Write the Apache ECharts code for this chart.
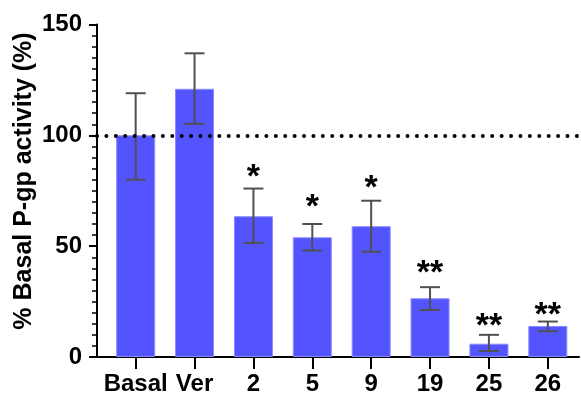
<!DOCTYPE html>
<html>
<head>
<meta charset="utf-8">
<script src="https://cdn.jsdelivr.net/npm/echarts@6/dist/echarts.min.js"></script>
<style>html,body{margin:0;padding:0;background:#fff}#c{width:581px;height:396px}</style>
</head>
<body>
<div id="c"></div>
<script>
var categories = ['Basal', 'Ver', '2', '5', '9', '19', '25', '26'];
var means      = [100, 121, 63.5, 54, 59, 26.5, 6, 14];
var errHigh    = [119, 137, 76, 60, 70.5, 31.5, 10, 16];
var errLow     = [80, 105.2, 51.5, 48, 47.5, 21.2, 2.7, 11.6];
var stars      = ['', '', '*', '*', '*', '**', '**', '**'];
var starLevel  = [null, null, 83.5, 70, 78.5, 40.5, 16.5, 21.5];
var yTicks     = [0, 50, 100, 150];
var refLevel   = 100;
var yTitle     = '% Basal P-gp activity (%)';

var FONT = '"Liberation Sans", Arial, Helvetica, sans-serif';
var idx = categories.map(function (c, i) { return i; });

var chart = echarts.init(document.getElementById('c'), null, {renderer: 'canvas'});
chart.setOption({
  animation: false,
  grid: {left: 97, right: 2, top: 24.5, bottom: 38, containLabel: false},
  xAxis: {
    type: 'value', min: -0.657, max: 7.53,
    splitLine: {show: false},
    axisLine: {show: true, onZero: false, lineStyle: {color: '#000', width: 2}},
    axisTick: {show: true, customValues: idx, length: 12, lineStyle: {color: '#000', width: 2}},
    axisLabel: {
      customValues: idx, margin: 15,
      formatter: function (v) { return categories[Math.round(v)]; },
      color: '#000', fontFamily: FONT, fontWeight: 'bold', fontSize: 24
    }
  },
  yAxis: {
    type: 'value', min: yTicks[0], max: yTicks[yTicks.length - 1], interval: 50,
    splitLine: {show: false},
    axisLine: {show: true, onZero: false, lineStyle: {color: '#000', width: 2}},
    axisTick: {show: true, length: 8, lineStyle: {color: '#000', width: 2}},
    minorTick: {show: true, splitNumber: 10, length: 5, lineStyle: {color: '#000', width: 1.5}},
    axisLabel: {margin: 15, color: '#000', fontFamily: FONT, fontWeight: 'bold', fontSize: 24}
  },
  graphic: [{
    type: 'text', x: 24, y: 181, rotation: Math.PI / 2,
    style: {text: yTitle, fill: '#000', font: 'bold 25px ' + FONT, align: 'center', verticalAlign: 'middle'}
  }],
  series: [
    {
      type: 'line', z: 1, data: [], symbol: 'none',
      markLine: {
        silent: true, symbol: 'none', animation: false,
        label: {show: false},
        lineStyle: {color: '#000', width: 4, type: [0.01, 9.4], cap: 'round'},
        data: [{yAxis: refLevel}]
      }
    },
    {
      type: 'bar', z: 3, barWidth: 39,
      itemStyle: {color: '#5454ff', borderColor: '#8a8aff', borderWidth: 1},
      data: means.map(function (v, i) { return [i, v]; })
    },
    {
      type: 'custom', z: 4,
      data: idx.map(function (i) { return [i, errLow[i], errHigh[i], starLevel[i] == null ? NaN : starLevel[i]]; }),
      renderItem: function (params, api) {
        var i = api.value(0);
        var lo = api.coord([i, api.value(1)]);
        var hi = api.coord([i, api.value(2)]);
        var half = 10;
        var ls = {stroke: '#505050', lineWidth: 2};
        var children = [
          {type: 'line', shape: {x1: lo[0], y1: lo[1], x2: hi[0], y2: hi[1]}, style: ls},
          {type: 'line', shape: {x1: hi[0] - half, y1: hi[1], x2: hi[0] + half, y2: hi[1]}, style: ls},
          {type: 'line', shape: {x1: lo[0] - half, y1: lo[1], x2: lo[0] + half, y2: lo[1]}, style: ls}
        ];
        var s = stars[params.dataIndex];
        if (s) {
          var sp = api.coord([i, api.value(3)]);
          children.push({type: 'text', x: sp[0], y: sp[1] + 6,
            style: {text: s, fill: '#000', font: 'bold 34px ' + FONT, align: 'center', verticalAlign: 'middle'}});
        }
        return {type: 'group', children: children};
      }
    }
  ]
});
</script>
</body>
</html>
